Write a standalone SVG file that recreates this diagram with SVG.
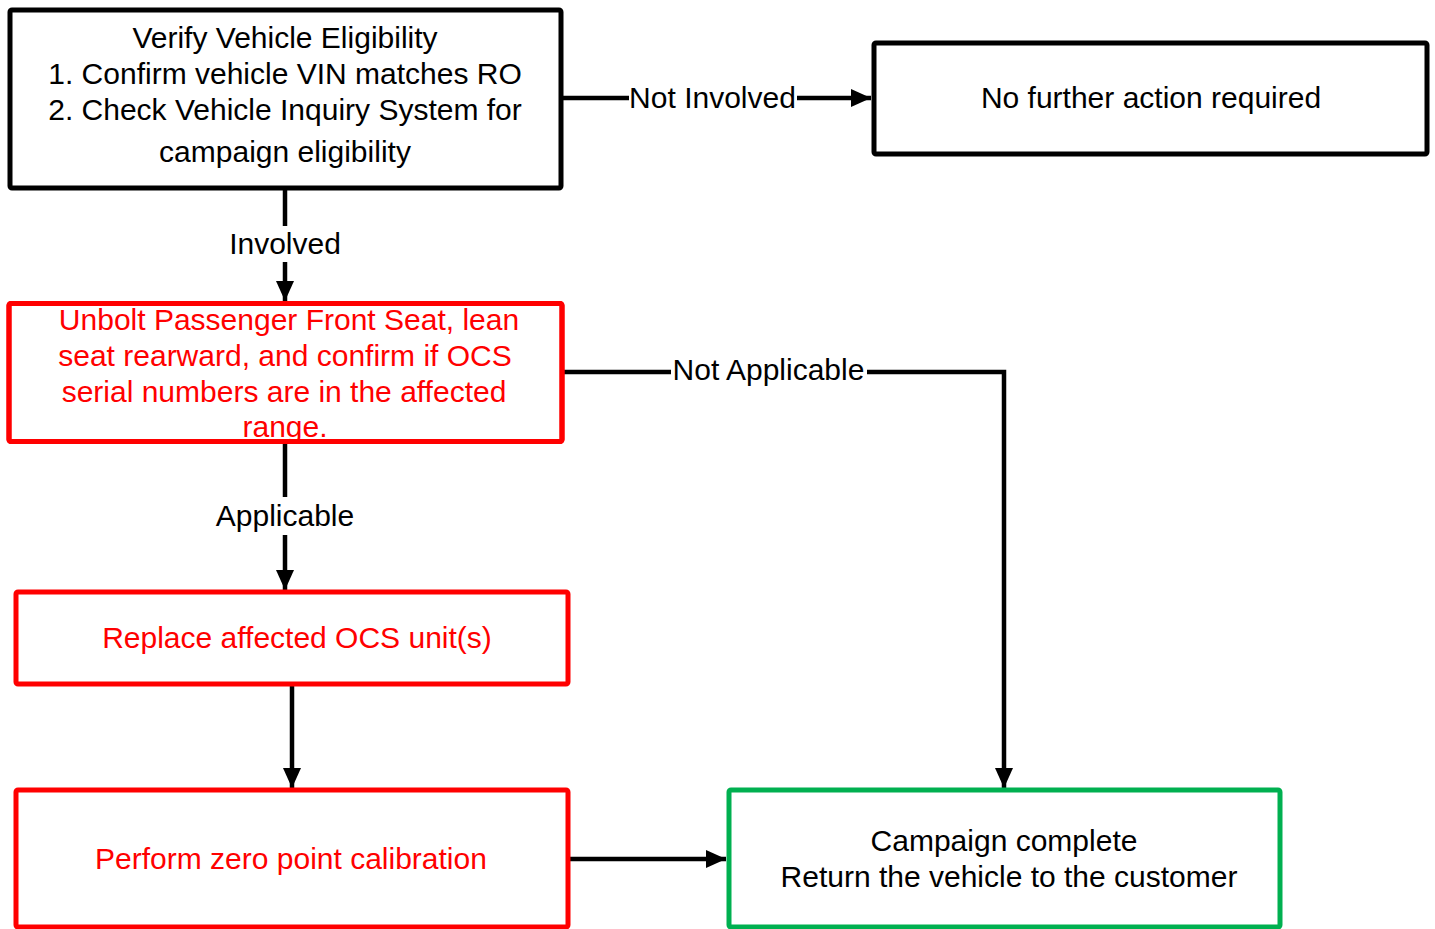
<svg xmlns="http://www.w3.org/2000/svg" width="1435" height="929" viewBox="0 0 1435 929">
<defs>
<style>
.box{fill:#fff;stroke-width:5;stroke-linejoin:round}
.blk{stroke:#000}
.red{stroke:#FF0000}
.grn{stroke:#00B050}
.nofill{fill:none}
text{font-family:"Liberation Sans",Arial,sans-serif;font-size:30px;text-anchor:middle}
.tb{fill:#000}
.tr{fill:#FF0000}
.conn{fill:none;stroke:#000;stroke-width:4.5;stroke-linejoin:miter}
.lblbg{fill:#fff}
</style>
<marker id="arr" markerUnits="userSpaceOnUse" markerWidth="20" markerHeight="18" refX="20" refY="9" orient="auto">
<path d="M0,0 L20,9 L0,18 Z" fill="#000"/>
</marker>
</defs>
<rect width="1435" height="929" fill="#fff"/>
<g id="connectors">
<path class="conn" d="M562,98 L871,98" marker-end="url(#arr)"/>
<path class="conn" d="M285,188 L285,301" marker-end="url(#arr)"/>
<path class="conn" d="M562,372 L1004,372 L1004,788" marker-end="url(#arr)"/>
<path class="conn" d="M285,442 L285,590" marker-end="url(#arr)"/>
<path class="conn" d="M292,684 L292,788" marker-end="url(#arr)"/>
<path class="conn" d="M568,859 L726,859" marker-end="url(#arr)"/>
<rect class="lblbg" x="629" y="80" width="168" height="36"/>
<text class="tb" x="712.5" y="108">Not Involved</text>
<rect class="lblbg" x="227" y="226" width="116" height="36"/>
<text class="tb" x="285" y="254">Involved</text>
<rect class="lblbg" x="671" y="352" width="196" height="36"/>
<text class="tb" x="768.5" y="380">Not Applicable</text>
<rect class="lblbg" x="214" y="497" width="142" height="38"/>
<text class="tb" x="285" y="526">Applicable</text>
</g>
<g id="node-verify">
<rect class="box blk" x="10" y="10" width="551" height="178" rx="2"/>
<text class="tb" x="285" y="48">Verify Vehicle Eligibility</text>
<text class="tb" x="285" y="84">1. Confirm vehicle VIN matches RO</text>
<text class="tb" x="285" y="120">2. Check Vehicle Inquiry System for</text>
<text class="tb" x="285" y="162">campaign eligibility</text>
</g>
<g id="node-nofurther">
<rect class="box blk" x="874" y="43" width="553" height="111" rx="2"/>
<text class="tb" x="1151" y="108">No further action required</text>
</g>
<g id="node-unbolt">
<rect class="box red" x="9" y="303.5" width="553" height="138" rx="2"/>
<text class="tr" x="289" y="330">Unbolt Passenger Front Seat, lean</text>
<text class="tr" x="285" y="366">seat rearward, and confirm if OCS</text>
<text class="tr" x="284" y="402">serial numbers are in the affected</text>
<text class="tr" x="285" y="437">range.</text>
<rect class="box red nofill" x="9" y="303.5" width="553" height="138" rx="2"/>
</g>
<g id="node-replace">
<rect class="box red" x="16" y="592" width="552" height="92" rx="2"/>
<text class="tr" x="297" y="648">Replace affected OCS unit(s)</text>
</g>
<g id="node-calibrate">
<rect class="box red" x="16" y="790" width="552" height="137" rx="2"/>
<text class="tr" x="291" y="869">Perform zero point calibration</text>
</g>
<g id="node-complete">
<rect class="box grn" x="729" y="790" width="551" height="137" rx="2"/>
<text class="tb" x="1004" y="851">Campaign complete</text>
<text class="tb" x="1009" y="887">Return the vehicle to the customer</text>
</g>
</svg>
